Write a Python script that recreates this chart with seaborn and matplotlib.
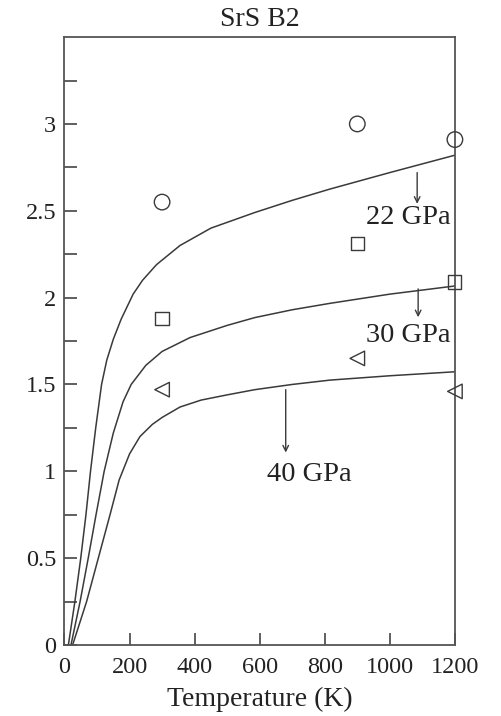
import matplotlib
matplotlib.use("Agg")
import matplotlib.pyplot as plt
import matplotlib.ticker as mticker
import numpy as np
import pandas as pd
import seaborn as sns

# curves (temperature in K)
t_22 = [12, 32, 50, 66, 80, 96, 114, 130, 150, 174, 211, 240, 283, 355, 450, 585, 700, 816, 1000, 1200]
v_22 = [0.0, 0.25, 0.5, 0.75, 1.0, 1.25, 1.5, 1.64, 1.76, 1.875, 2.02, 2.10, 2.19, 2.30, 2.40, 2.49, 2.56, 2.625, 2.72, 2.82]
t_30 = [20, 48, 73, 97, 122, 150, 180, 205, 250, 300, 386, 500, 585, 700, 816, 1000, 1200]
v_30 = [0.0, 0.25, 0.5, 0.75, 1.0, 1.22, 1.40, 1.50, 1.61, 1.69, 1.77, 1.84, 1.885, 1.93, 1.967, 2.02, 2.067]
t_40 = [25, 68, 104, 140, 168, 200, 232, 270, 300, 355, 420, 500, 585, 700, 816, 1000, 1200]
v_40 = [0.0, 0.25, 0.5, 0.75, 0.95, 1.10, 1.20, 1.27, 1.31, 1.37, 1.41, 1.44, 1.47, 1.50, 1.525, 1.55, 1.573]

# measured points
t_pts = [300, 900, 1200]
circ = [2.55, 3.0, 2.91]
squa = [1.88, 2.31, 2.09]
tria = [1.47, 1.65, 1.46]

labels = ["22 GPa", "30 GPa", "40 GPa"]

sns.set_style("ticks")
plt.rcParams["font.family"] = ["Liberation Serif", "DejaVu Serif"]

curves = pd.concat([
    pd.DataFrame({"T": t_22, "v": v_22, "p": labels[0]}),
    pd.DataFrame({"T": t_30, "v": v_30, "p": labels[1]}),
    pd.DataFrame({"T": t_40, "v": v_40, "p": labels[2]}),
])

fig = plt.figure(figsize=(5.01, 7.16), dpi=100)
ax = fig.add_axes([0.1287, 0.0992, 0.7793, 0.8490])

ink = "#3a3a3a"
for p in labels:
    sub = curves[curves["p"] == p]
    sns.lineplot(data=sub, x="T", y="v", ax=ax, color=ink, lw=1.1,
                 estimator=None, sort=False)

for vals, m, s in [(circ, "o", 125), (squa, "s", 90), (tria, "<", 110)]:
    sns.scatterplot(x=t_pts, y=vals, ax=ax, marker=m, s=s, facecolor="none",
                    edgecolor=ink, linewidth=1.0, clip_on=False, zorder=5)

# annotations
fs_ann = 20.5
arrow = dict(arrowstyle="->", color=ink, lw=1.0, shrinkA=0, shrinkB=0)
ax.annotate("", xy=(1084, 2.54), xytext=(1084, 2.72), arrowprops=arrow)
ax.text(1056, 2.46, "22 GPa", ha="center", va="center", fontsize=fs_ann, color="#222")
ax.annotate("", xy=(1087, 1.887), xytext=(1087, 2.05), arrowprops=arrow)
ax.text(1056, 1.78, "30 GPa", ha="center", va="center", fontsize=fs_ann, color="#222")
ax.annotate("", xy=(680, 1.108), xytext=(680, 1.47), arrowprops=arrow)
ax.text(754, 0.98, "40 GPa", ha="center", va="center", fontsize=fs_ann, color="#222")

ax.set_xlim(0, 1200)
ax.set_ylim(0, 3.5)
ax.set_xticks([0, 200, 400, 600, 800, 1000, 1200])
ax.set_yticks(np.arange(0, 3.01, 0.5))
ax.yaxis.set_minor_locator(mticker.FixedLocator([0.25, 0.75, 1.25, 1.75, 2.25, 2.75, 3.25]))
ax.yaxis.set_major_formatter(mticker.FuncFormatter(lambda v, _: f"{v:g}"))
ax.tick_params(axis="both", which="both", direction="in", length=9, width=1.2,
               color="#444", labelsize=17.5, labelcolor="#222", pad=6)
ax.tick_params(axis="x", pad=9)
for sp in ax.spines.values():
    sp.set_color("#555")
    sp.set_linewidth(1.3)

ax.set_xlabel("Temperature (K)", fontsize=20, color="#222", labelpad=6)
ax.set_ylabel("")
ax.set_title("SrS B2", fontsize=20, color="#222", pad=8)

fig.savefig("out.png", dpi=100)
